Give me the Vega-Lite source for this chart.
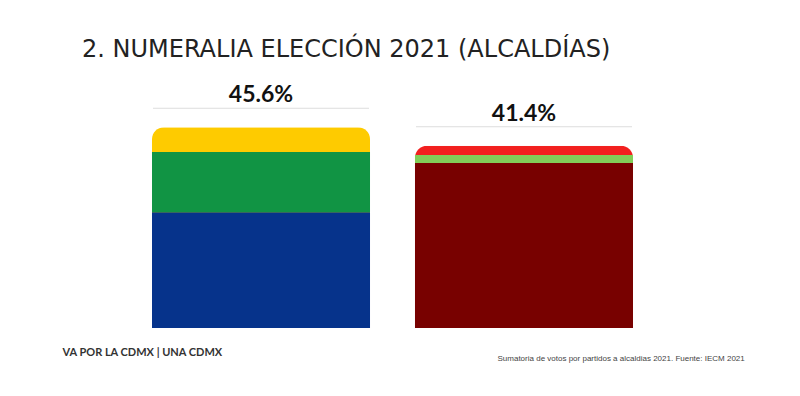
{
  "$schema": "https://vega.github.io/schema/vega-lite/v6.json",
  "autosize": {"type": "none"},
  "width": 481,
  "height": 220,
  "padding": {"left": 152, "top": 108, "right": 167, "bottom": 68},
  "background": "white",
  "title": {
    "text": "2. NUMERALIA ELECCIÓN 2021 (ALCALDÍAS)",
    "anchor": "start",
    "frame": "group",
    "dx": -70,
    "dy": 47,
    "font": "DejaVu Sans",
    "fontSize": 24,
    "fontWeight": "normal",
    "color": "#222222",
    "baseline": "alphabetic",
    "offset": 50
  },
  "data": {
    "values": [
      {"bloque": "Va por la CDMX", "partido": "PAN", "votos": 26.3, "orden": 1},
      {"bloque": "Va por la CDMX", "partido": "PRI", "votos": 13.7, "orden": 2},
      {"bloque": "Va por la CDMX", "partido": "PRD", "votos": 5.6, "orden": 3},
      {"bloque": "Juntos Hacemos Historia", "partido": "Morena", "votos": 37.5, "orden": 1},
      {"bloque": "Juntos Hacemos Historia", "partido": "PVEM", "votos": 1.8, "orden": 2},
      {"bloque": "Juntos Hacemos Historia", "partido": "PT", "votos": 2.1, "orden": 3}
    ]
  },
  "transform": [
    {"joinaggregate": [{"op": "sum", "field": "votos", "as": "total"}], "groupby": ["bloque"]},
    {"calculate": "format(datum.total, '.1f') + '%'", "as": "etiqueta"}
  ],
  "encoding": {
    "x": {
      "field": "bloque",
      "type": "nominal",
      "sort": ["Va por la CDMX", "Juntos Hacemos Historia"],
      "scale": {"paddingInner": 0.171, "paddingOuter": 0},
      "axis": {
        "domain": false, "ticks": false, "labels": false, "grid": false,
        "title": "Sumatoria de votos por partidos a alcaldias 2021. Fuente: IECM 2021",
        "titleX": 345, "titleY": 30, "titleAlign": "left", "titleBaseline": "middle",
        "titleFont": "Liberation Sans", "titleFontSize": 8, "titleFontWeight": "normal", "titleColor": "#444444"
      }
    }
  },
  "layer": [
    {
      "transform": [{"filter": "datum.orden == 3"}],
      "mark": {"type": "bar", "cornerRadiusTopLeft": 12, "cornerRadiusTopRight": 12},
      "encoding": {
        "y": {
          "field": "total", "type": "quantitative",
          "scale": {"domain": [0, 50]},
          "axis": {
            "domain": false, "ticks": false, "labels": false, "grid": false,
            "title": "VA POR LA CDMX   |   UNA CDMX",
            "titleAngle": 0, "titleX": -90, "titleY": 244, "titleAlign": "left", "titleBaseline": "middle",
            "titleFont": "Lato", "titleFontSize": 11, "titleFontWeight": "bold", "titleColor": "#333333"
          }
        },
        "color": {
          "field": "partido", "type": "nominal", "legend": null,
          "scale": {
            "domain": ["PAN", "PRI", "PRD", "Morena", "PVEM", "PT"],
            "range": ["#06338B", "#119444", "#FECB00", "#780100", "#82CE58", "#F2201F"]
          }
        }
      }
    },
    {
      "transform": [{"filter": "datum.orden < 3"}],
      "mark": {"type": "bar"},
      "encoding": {
        "y": {"field": "votos", "type": "quantitative", "stack": "zero", "scale": {"domain": [0, 50]}},
        "order": {"field": "orden", "type": "quantitative"},
        "color": {"field": "partido", "type": "nominal", "legend": null}
      }
    },
    {
      "transform": [{"filter": "datum.orden == 3"}],
      "mark": {"type": "tick", "size": 216, "thickness": 1, "color": "#DDDDDD", "yOffset": -19, "opacity": 1},
      "encoding": {
        "y": {"field": "total", "type": "quantitative"}
      }
    },
    {
      "transform": [{"filter": "datum.orden == 3"}],
      "mark": {"type": "text", "font": "Lato", "fontSize": 23, "fontWeight": "bold", "color": "#111111", "baseline": "alphabetic", "yOffset": -25},
      "encoding": {
        "y": {"field": "total", "type": "quantitative"},
        "text": {"field": "etiqueta", "type": "nominal"}
      }
    }
  ],
  "config": {"view": {"stroke": null}}
}
